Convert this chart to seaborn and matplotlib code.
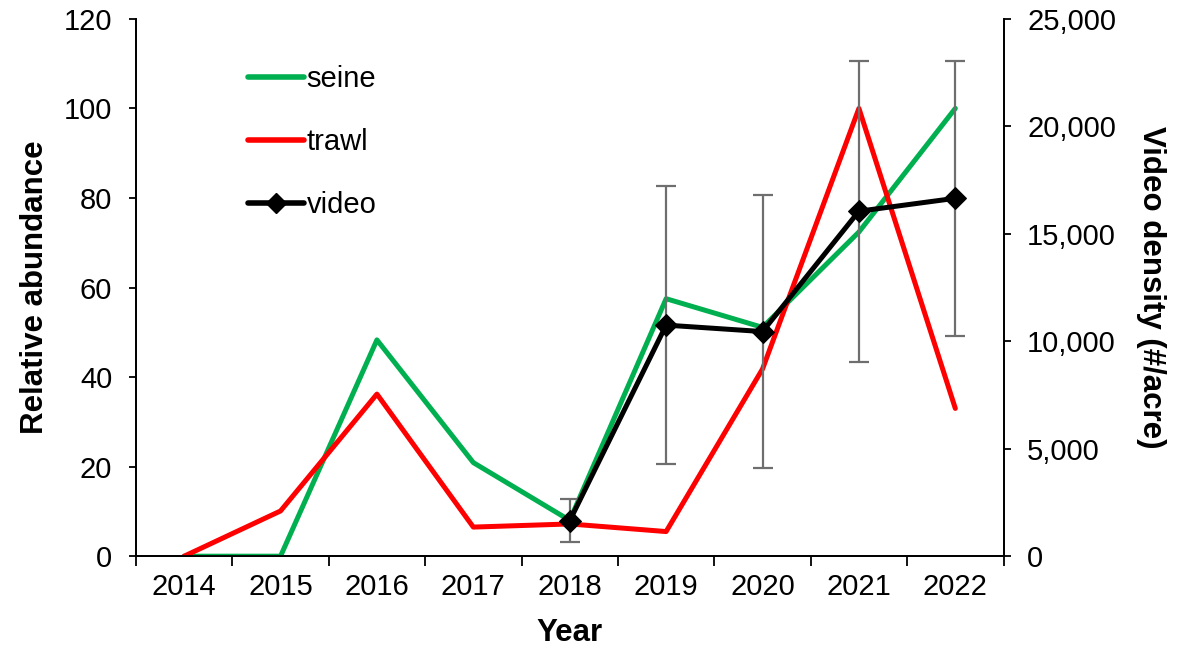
import matplotlib
matplotlib.use("Agg")
import matplotlib.pyplot as plt
from matplotlib.lines import Line2D
from matplotlib.ticker import FuncFormatter, FixedLocator, NullFormatter
import seaborn as sns
import pandas as pd

# Survey results by year
years = [2014, 2015, 2016, 2017, 2018, 2019, 2020, 2021, 2022]
seine = [0, 0, 48.3, 20.9, 8.0, 57.5, 51.1, 72.4, 100]
trawl = [0, 10.1, 36.2, 6.5, 7.2, 5.5, 41.8, 100, 33.0]

video_years = [2018, 2019, 2020, 2021, 2022]
video_density = [1650, 10750, 10450, 16050, 16650]
video_err = [1000, 6450, 6350, 7000, 6400]

sns.set_theme(style="white")
plt.rcParams["font.family"] = ["Liberation Sans", "DejaVu Sans"]
plt.rcParams["text.color"] = "black"
plt.rcParams["axes.labelcolor"] = "black"
plt.rcParams["xtick.color"] = "black"
plt.rcParams["ytick.color"] = "black"

TICK_FS = 21
LABEL_FS = 22.5

df = pd.DataFrame({"Year": years, "seine": seine, "trawl": trawl})
vdf = pd.DataFrame({"Year": video_years, "density": video_density, "err": video_err})

fig = plt.figure(figsize=(11.82, 6.49), dpi=100)
ax = fig.add_axes([0.115, 0.143, 0.734, 0.828])
ax2 = ax.twinx()

green = "#00B050"
red = "#FF0000"

sns.lineplot(data=df, x="Year", y="seine", ax=ax, color=green, linewidth=3.6,
             solid_capstyle="round", zorder=3, legend=False)
sns.lineplot(data=df, x="Year", y="trawl", ax=ax, color=red, linewidth=3.6,
             solid_capstyle="round", zorder=4, legend=False)

ax2.errorbar(vdf["Year"], vdf["density"], yerr=vdf["err"], fmt="none",
             ecolor="#6E6E6E", elinewidth=1.6, capsize=7, capthick=1.6, zorder=2)
sns.lineplot(data=vdf, x="Year", y="density", ax=ax2, color="black", linewidth=3.6,
             marker="D", markersize=11, markeredgecolor="black", zorder=5, legend=False)

# Axis limits and ticks
ax.set_xlim(2013.5, 2022.5)
ax.set_ylim(0, 120)
ax2.set_ylim(0, 25000)
ax.set_yticks(range(0, 121, 20))
ax2.set_yticks(range(0, 25001, 5000))
ax2.yaxis.set_major_formatter(FuncFormatter(lambda v, p: f"{v:,.0f}"))

ax.xaxis.set_major_locator(FixedLocator([y - 0.5 for y in years] + [years[-1] + 0.5]))
ax.xaxis.set_major_formatter(NullFormatter())
ax.xaxis.set_minor_locator(FixedLocator(years))
ax.set_xticklabels([str(y) for y in years], minor=True)
ax.tick_params(axis="x", which="major", direction="out", length=7, width=1.3,
               color="black", bottom=True)
ax.tick_params(axis="x", which="minor", length=0, pad=12, labelsize=TICK_FS,
               labelcolor="black")
ax.tick_params(axis="y", direction="out", length=5, width=1.3, color="black",
               left=True, labelsize=TICK_FS, labelcolor="black", pad=12)
ax2.tick_params(axis="y", direction="out", length=5, width=1.3, color="black",
                right=True, labelsize=TICK_FS, labelcolor="black", pad=12)

for a in (ax, ax2):
    a.spines["top"].set_visible(False)
    for s in ("left", "right", "bottom"):
        a.spines[s].set_color("black")
        a.spines[s].set_linewidth(1.3)
    a.grid(False)

ax.set_xlabel("Year", fontsize=LABEL_FS, fontweight="bold", labelpad=12)
ax.set_ylabel("Relative abundance", fontsize=LABEL_FS, fontweight="bold", labelpad=10)
ax2.set_ylabel("Video density (#/acre)", fontsize=LABEL_FS, fontweight="bold",
               rotation=270, labelpad=36)

handles = [
    Line2D([], [], color=green, linewidth=4, solid_capstyle="round"),
    Line2D([], [], color=red, linewidth=4, solid_capstyle="round"),
    Line2D([], [], color="black", linewidth=4, marker="D", markersize=10,
           solid_capstyle="round"),
]
ax2.legend(handles, ["seine", "trawl", "video"], loc="upper left",
           bbox_to_anchor=(0.116, 0.935), frameon=False, fontsize=TICK_FS,
           handlelength=1.9, handletextpad=0.1, labelspacing=1.2,
           borderaxespad=0)

fig.savefig("out.png", dpi=100)
